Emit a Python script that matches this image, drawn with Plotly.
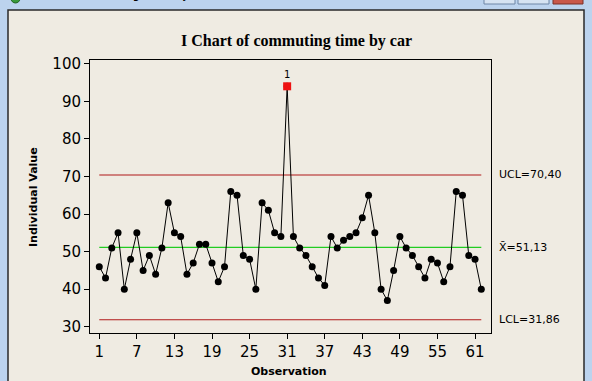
import plotly.graph_objects as go

# ---- data ----
observations = list(range(1, 63))
values = [46, 43, 51, 55, 40, 48, 55, 45, 49, 44,
          51, 63, 55, 54, 44, 47, 52, 52, 47, 42,
          46, 66, 65, 49, 48, 40, 63, 61, 55, 54,
          94, 54, 51, 49, 46, 43, 41, 54, 51, 53,
          54, 55, 59, 65, 55, 40, 37, 45, 54, 51,
          49, 46, 43, 48, 47, 42, 46, 66, 65, 49,
          48, 40]
out_obs = [31]
out_vals = [94]
out_labels = ["1"]
UCL = 70.40
CENTER = 51.13
LCL = 31.86
limit_labels = ["UCL=70,40", "X\u0304=51,13", "LCL=31,86"]
x_ticks = list(range(1, 62, 6))
y_ticks = list(range(30, 101, 10))

# ---- geometry helpers (pixels -> paper) ----
W, H = 592, 381
L, R, T, B = 90, 101, 60, 48
PW, PH = W - L - R, H - T - B


def px(x):
    return (x - L) / PW


def py(y):
    return (H - B - y) / PH


BEIGE = "#EFEBE2"
FRAME = "#BCD3EE"
RED = "#B01818"
GREEN = "#22CC22"

fig = go.Figure()

# control limit lines
for val, col in [(UCL, RED), (CENTER, GREEN), (LCL, RED)]:
    fig.add_trace(go.Scatter(
        x=[observations[0], observations[-1]], y=[val, val], mode="lines",
        line=dict(color=col, width=1.1), hoverinfo="skip", showlegend=False))

# data
fig.add_trace(go.Scatter(
    x=observations, y=values, mode="lines+markers",
    line=dict(color="black", width=1),
    marker=dict(color="black", size=7, symbol="circle"),
    showlegend=False))

# out of control point
fig.add_trace(go.Scatter(
    x=out_obs, y=out_vals, mode="markers+text", text=out_labels,
    textposition="top center",
    textfont=dict(family="DejaVu Sans", size=10, color="black"),
    marker=dict(color="#EE1111", size=8, symbol="square"),
    showlegend=False))

shapes = [
    # inner window area
    dict(type="rect", xref="paper", yref="paper",
         x0=px(8), x1=px(584), y0=py(400), y1=py(10),
         fillcolor=BEIGE, line=dict(color="#2A2A2A", width=1.5), layer="below"),
    # title bar buttons
    dict(type="rect", xref="paper", yref="paper",
         x0=px(484), x1=px(515), y0=py(4), y1=py(-10),
         fillcolor="#D6E3F2", line=dict(color="#6F86A6", width=1), layer="below"),
    dict(type="rect", xref="paper", yref="paper",
         x0=px(518), x1=px(549), y0=py(4), y1=py(-10),
         fillcolor="#D6E3F2", line=dict(color="#6F86A6", width=1), layer="below"),
    dict(type="rect", xref="paper", yref="paper",
         x0=px(553), x1=px(583), y0=py(4), y1=py(-10),
         fillcolor="#C8584A", line=dict(color="#7A3028", width=1), layer="below"),
    # icon
    dict(type="circle", xref="paper", yref="paper",
         x0=px(11), x1=px(20), y0=py(3), y1=py(-6),
         fillcolor="#3A9A3A", line=dict(color="#1F5F1F", width=1), layer="below"),
]

annotations = [
    dict(text="<b>Individual Value</b>", xref="paper", yref="paper",
         x=px(33), y=py(197), textangle=-90, showarrow=False,
         font=dict(family="DejaVu Sans", size=11, color="black"),
         xanchor="center", yanchor="middle"),
    dict(text="<b>Observation</b>", xref="paper", yref="paper",
         x=px(289), y=py(371), showarrow=False,
         font=dict(family="DejaVu Sans", size=11, color="black"),
         xanchor="center", yanchor="middle"),
    dict(text="<b>I Chart of commuting time by car</b>", xref="paper", yref="paper",
         x=px(296), y=py(41), showarrow=False,
         font=dict(family="Liberation Serif", size=16, color="black"),
         xanchor="center", yanchor="middle"),
    dict(text="Plot of commuting time by car", xref="paper", yref="paper",
         x=px(28), y=py(3), showarrow=False,
         font=dict(family="DejaVu Sans", size=12, color="black"),
         xanchor="left", yanchor="bottom"),
]

for val, lab in zip([UCL, CENTER, LCL], limit_labels):
    annotations.append(dict(
        text=lab, xref="paper", yref="y", x=px(497), y=val,
        showarrow=False, xanchor="left", yanchor="middle",
        font=dict(family="DejaVu Sans", size=11, color="black")))

fig.update_layout(
    width=W, height=H, autosize=False,
    margin=dict(l=L, r=R, t=T, b=B, pad=0),
    paper_bgcolor=FRAME, plot_bgcolor="white",
    shapes=shapes, annotations=annotations,
    showlegend=False,
    xaxis=dict(range=[-0.48, 63.55], tickvals=x_ticks, ticks="outside",
               ticklen=5, tickcolor="black", showline=True, linecolor="black",
               linewidth=1, mirror=True, showgrid=False, zeroline=False,
               tickfont=dict(family="DejaVu Sans", size=15, color="black")),
    yaxis=dict(range=[28.35, 101.0], tickvals=y_ticks, ticks="outside",
               ticklen=5, tickcolor="black", showline=True, linecolor="black",
               linewidth=1, mirror=True, showgrid=False, zeroline=False,
               tickfont=dict(family="DejaVu Sans", size=15, color="black")),
)

fig.write_html(
    "out.html",
    config={"displayModeBar": False},
    post_script="document.body.style.margin='0';document.body.style.padding='0';"
                "document.body.style.overflow='hidden';",
)
